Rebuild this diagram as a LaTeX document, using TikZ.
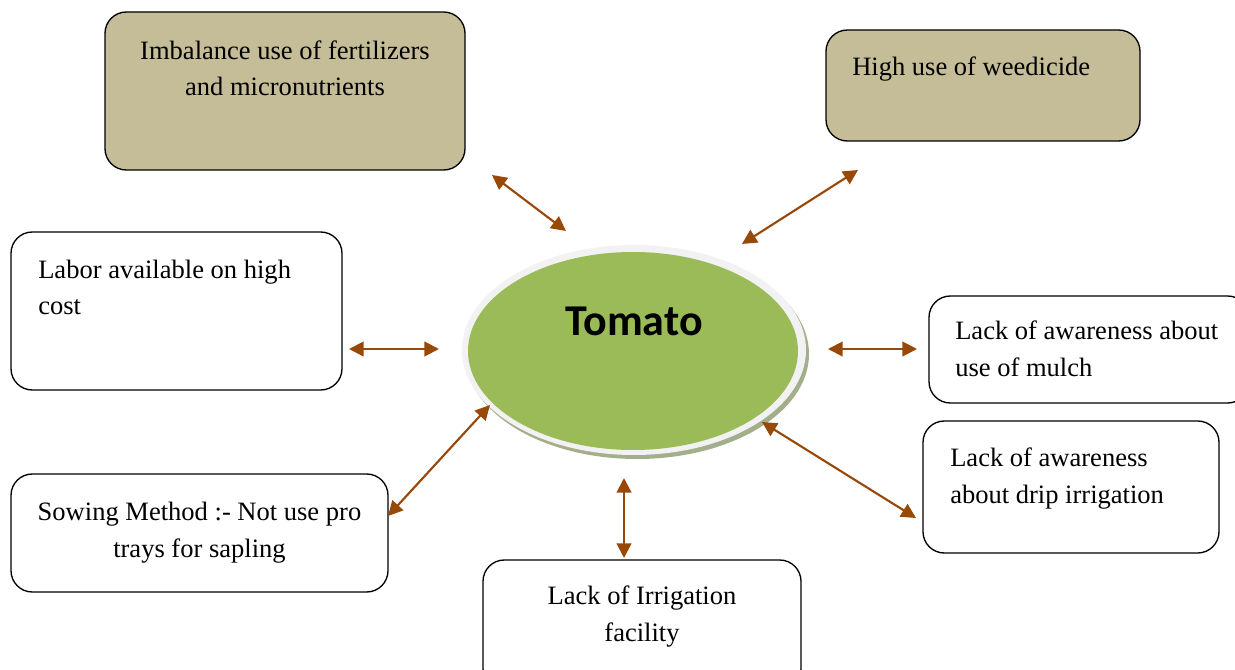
\documentclass[tikz,border=0pt]{standalone}
\usepackage{fontspec}
\setmainfont{Liberation Serif}
\newfontfamily\calfont{Carlito}
\usetikzlibrary{arrows.meta,shapes.geometric}
\definecolor{khaki}{HTML}{C4BD97}
\definecolor{leaf}{HTML}{9BBB59}
\definecolor{rim}{HTML}{F2F2F2}
\definecolor{shade}{HTML}{A3AE8B}
\definecolor{rust}{HTML}{984807}

\tikzset{
  box/.style={draw, line width=1pt, rounded corners=16pt, inner sep=0pt},
  lbl/.style={font=\fontsize{19.9}{27.7}\selectfont, inner sep=0pt},
  link/.style={rust, line width=1.6pt, {Triangle[length=11pt,width=11pt]}-{Triangle[length=11pt,width=11pt]}}
}

\begin{document}
\begin{tikzpicture}[x=0.75pt, y=-0.75pt]
    \useasboundingbox (0,0) rectangle (1235,670);

    % centre ellipse
    \node[ellipse, fill=shade, minimum width=258pt, minimum height=157.5pt, inner sep=0pt] (tomshadow) at (637,354) {};
    \node[ellipse, fill=rim, minimum width=258pt, minimum height=157.5pt, inner sep=0pt] (tomato) at (634,350) {};
    \node[ellipse, fill=leaf, minimum width=247.5pt, minimum height=148.5pt, inner sep=0pt] (tomin) at (633,351) {};
    \node[font=\calfont\bfseries\fontsize{33}{38}\selectfont, inner sep=0pt] (tomtxt) at (634,321) {Tomato};

    % boxes
    \node[box, fill=khaki, minimum width=270pt, minimum height=118.5pt] (imb) at (285,91) {};
    \node[box, fill=khaki, minimum width=235.5pt, minimum height=83.25pt] (weed) at (983,85.5) {};
    \node[box, fill=white, minimum width=248.25pt, minimum height=118.5pt] (labor) at (176.5,311) {};
    \node[box, fill=white, minimum width=240pt, minimum height=80.25pt] (mulch) at (1089,349.5) {};
    \node[box, fill=white, minimum width=222pt, minimum height=99pt] (drip) at (1071,487) {};
    \node[box, fill=white, minimum width=282.75pt, minimum height=88.5pt] (sow) at (199.5,533) {};
    \node[box, fill=white, minimum width=238.5pt, minimum height=97.5pt] (irr) at (642,625) {};

    % texts (base = last line)
    \node[lbl, align=center, anchor=base] (imbtxt) at (285,96) {Imbalance use of fertilizers\\and micronutrients};
    \node[lbl, align=left, anchor=base west] (weedtxt) at (852,76) {High use of weedicide};
    \node[lbl, align=left, anchor=base west] (labortxt) at (38,315) {Labor available on high\\cost};
    \node[lbl, align=left, anchor=base west] (mulchtxt) at (955,376) {Lack of awareness about\\use of mulch};
    \node[lbl, align=left, anchor=base west] (driptxt) at (950,503) {Lack of awareness\\about drip irrigation};
    \node[lbl, align=center, anchor=base] (sowtxt) at (199.5,557) {Sowing Method :- Not use pro\\trays for sapling};
    \node[lbl, align=center, anchor=base] (irrtxt) at (642,641) {Lack of Irrigation\\facility};

    % arrow ends
    \coordinate (imbA) at (492,175);   \coordinate (imbB) at (566,231);
    \coordinate (weedA) at (858,170);  \coordinate (weedB) at (742,244);
    \coordinate (laborA) at (349,349); \coordinate (laborB) at (439,349);
    \coordinate (mulchA) at (917,349); \coordinate (mulchB) at (828,349);
    \coordinate (sowA) at (388,516);   \coordinate (sowB) at (490,405);
    \coordinate (irrA) at (624,558);   \coordinate (irrB) at (624,478);
    \coordinate (dripA) at (916,518);  \coordinate (dripB) at (762,422);

    \draw[link] (imbA) -- (imbB);
    \draw[link] (weedA) -- (weedB);
    \draw[link] (laborA) -- (laborB);
    \draw[link] (mulchA) -- (mulchB);
    \draw[link] (sowA) -- (sowB);
    \draw[link] (irrA) -- (irrB);
    \draw[link] (dripA) -- (dripB);
\end{tikzpicture}
\end{document}
